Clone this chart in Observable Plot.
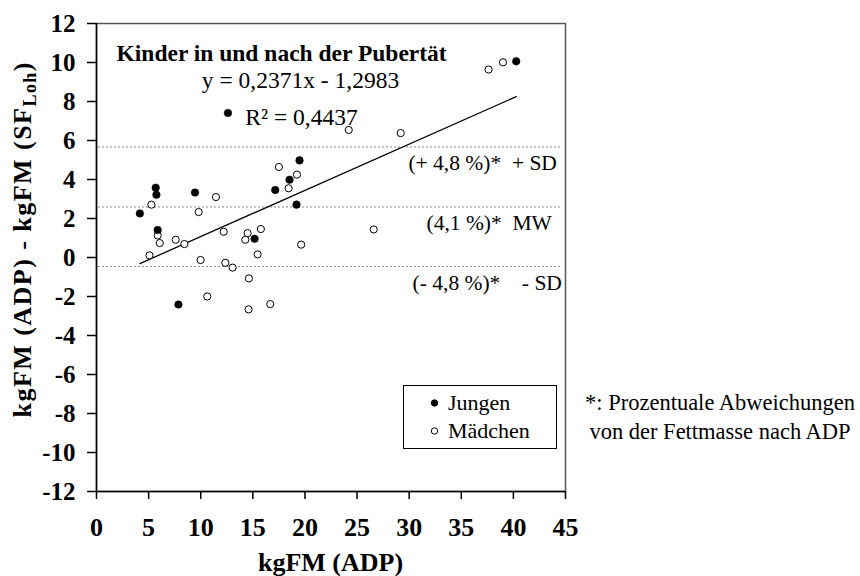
<!DOCTYPE html>
<html><head><meta charset="utf-8">
<script src="https://cdn.jsdelivr.net/npm/d3@7"></script>
<script src="https://cdn.jsdelivr.net/npm/@observablehq/plot@0.6"></script>
<style>
  body { margin: 0; background: white; }
  #chart { position: relative; width: 860px; height: 576px; }
  #chart svg, #chart svg text { font-family: "Liberation Serif", "Times New Roman", serif !important; }
</style>
</head><body>
<div id="chart"></div>
<script>
// Data
const boysX  = [4.16, 5.68, 5.75, 5.87, 7.86, 9.45, 12.61, 15.17, 17.15, 18.52, 19.19, 19.48, 40.27];
const boysY  = [2.26, 3.58, 3.22, 1.41, -2.41, 3.33, 7.41, 0.96, 3.46, 3.99, 2.71, 4.98, 10.06];
const girlsX = [5.08, 5.27, 5.87, 6.07, 7.6, 8.43, 9.8, 9.99, 10.63, 11.46, 12.2, 12.36, 13.06, 14.28, 14.5, 14.59, 14.62, 15.46, 15.77, 16.67, 17.5, 18.43, 19.23, 19.64, 24.2, 26.6, 29.19, 37.62, 39.0];
const girlsY = [0.11, 2.71, 1.13, 0.74, 0.91, 0.69, 2.33, -0.13, -2.0, 3.1, 1.32, -0.27, -0.52, 0.91, 1.25, -2.66, -1.07, 0.16, 1.46, -2.39, 4.64, 3.55, 4.25, 0.66, 6.54, 1.44, 6.38, 9.64, 10.01];

const slope = 0.2371, intercept = -1.2983;
const bandValues = [5.67, 2.59, -0.46];
const bandLabels = ["(+ 4,8 %)*  + SD", "(4,1 %)*  MW", "(- 4,8 %)*    - SD"];

const xTicks = [0, 5, 10, 15, 20, 25, 30, 35, 40, 45];
const yTicks = [-12, -10, -8, -6, -4, -2, 0, 2, 4, 6, 8, 10, 12];

const titleText = "Kinder in und nach der Pubertät";
const eqText = "y = 0,2371x - 1,2983";
const r2Text = "R² = 0,4437";
const legendLabels = ["Jungen", "Mädchen"];
const footLines = ["*: Prozentuale Abweichungen", "von der Fettmasse nach ADP"];
const xTitle = "kgFM (ADP)";

const boys = boysX.map((x, i) => ({x, y: boysY[i]}));
const girls = girlsX.map((x, i) => ({x, y: girlsY[i]}));
const ext = d3.extent(boysX.concat(girlsX));
const reg = ext.map(x => ({x, y: slope * x + intercept}));
const bands = bandValues.map((v, i) => ({v, label: bandLabels[i]}));

const FONT = "Liberation Serif, Times New Roman, serif";

const plot = Plot.plot({
  width: 860, height: 576,
  marginLeft: 96, marginRight: 295, marginTop: 23, marginBottom: 85,
  style: {color: "black", background: "white", overflow: "visible"},
  x: {domain: [0, 45]},
  y: {domain: [-12, 12]},
  marks: [
    Plot.frame({stroke: "#555", strokeWidth: 1.5}),
    Plot.ruleY(bands, {y: "v", stroke: "#888", strokeWidth: 1, strokeDasharray: "2,2", insetLeft: 2, insetRight: 5}),
    Plot.text([bands[0]], {y: "v", text: "label", frameAnchor: "right", textAnchor: "end", lineAnchor: "middle", dx: -8.6, dy: 16.5, fontSize: 21.5}),
    Plot.text([bands[1]], {y: "v", text: "label", frameAnchor: "right", textAnchor: "end", lineAnchor: "middle", dx: -13.6, dy: 16.5, fontSize: 21.5}),
    Plot.text([bands[2]], {y: "v", text: "label", frameAnchor: "right", textAnchor: "end", lineAnchor: "middle", dx: -3.6, dy: 17, fontSize: 21.5}),
    Plot.line(reg, {x: "x", y: "y", stroke: "black", strokeWidth: 1.3}),
    Plot.dot(girls, {x: "x", y: "y", r: 3.6, fill: "white", stroke: "black", strokeWidth: 1}),
    Plot.dot(boys, {x: "x", y: "y", r: 3.8, fill: "black", stroke: "black", strokeWidth: 0.5}),
    Plot.text([titleText], {text: d => d, frameAnchor: "top-left", textAnchor: "start", lineAnchor: "middle", dx: 20, dy: 30, fontSize: 23.5, fontWeight: "bold"}),
    Plot.text([eqText], {text: d => d, frameAnchor: "top-left", textAnchor: "middle", lineAnchor: "middle", dx: 204, dy: 57, fontSize: 23.5}),
    Plot.text([r2Text], {text: d => d, frameAnchor: "top-left", textAnchor: "middle", lineAnchor: "middle", dx: 205, dy: 94, fontSize: 23.5}),
    Plot.ruleX([0], {stroke: "black", strokeWidth: 1.5}),
    Plot.ruleY([-12], {stroke: "black", strokeWidth: 1.5}),
    Plot.axisX({ticks: xTicks, tickSize: 8, tickPadding: 18, fontSize: 26, fontWeight: "bold", label: null, tickFormat: d => String(d), strokeWidth: 1.5}),
    Plot.axisY({ticks: yTicks, tickSize: 9, tickPadding: 12, fontSize: 25, fontWeight: "bold", label: null, tickFormat: d => String(d), strokeWidth: 1.5})
  ]
});

const svg = d3.select(plot);
// x axis title
svg.append("text").attr("x", 330.5).attr("y", 563).attr("text-anchor", "middle").attr("dy", "0.32em")
  .attr("font-family", FONT).attr("font-size", 26).attr("font-weight", "bold").attr("fill", "black").text(xTitle);
// y axis title with subscript
const yt = svg.append("text").attr("transform", "translate(31,240) rotate(-90)").attr("text-anchor", "middle")
  .attr("font-family", FONT).attr("font-size", 26).attr("font-weight", "bold").attr("fill", "black")
  .attr("textLength", 355).attr("lengthAdjust", "spacing");
yt.append("tspan").text("kgFM (ADP) - kgFM (SF");
yt.append("tspan").attr("font-size", 18).attr("dy", 5).text("Loh");
yt.append("tspan").attr("dy", -5).text(")");
// legend box
const lg = svg.append("g");
lg.append("rect").attr("x", 403.5).attr("y", 385.5).attr("width", 153).attr("height", 63)
  .attr("fill", "white").attr("stroke", "black").attr("stroke-width", 1);
legendLabels.forEach((lab, i) => {
  const cy = 403 + i * 28;
  lg.append("circle").attr("cx", 434.5).attr("cy", cy).attr("r", 3.2)
    .attr("fill", i === 0 ? "black" : "white").attr("stroke", "black").attr("stroke-width", 1);
  lg.append("text").attr("x", 448).attr("y", cy).attr("dy", "0.32em").attr("text-anchor", "start")
    .attr("font-family", FONT).attr("font-size", 22).attr("fill", "black").text(lab);
});
// footnote
footLines.forEach((t, i) => {
  svg.append("text").attr("x", 720).attr("y", 403 + i * 28.5).attr("dy", "0.32em").attr("text-anchor", "middle")
    .attr("font-family", FONT).attr("font-size", 22.5).attr("fill", "black").text(t);
});

document.getElementById("chart").appendChild(plot);
</script>
</body></html>
